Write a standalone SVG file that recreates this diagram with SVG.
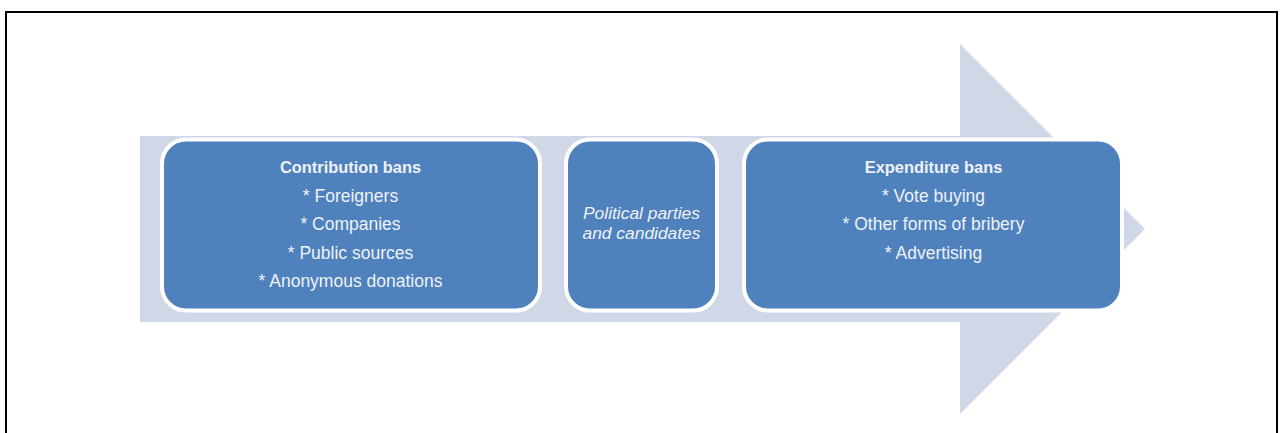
<svg xmlns="http://www.w3.org/2000/svg" width="1280" height="433" viewBox="0 0 1280 433">
  <style>
    .box { fill: #4f81bd; stroke: #ffffff; stroke-width: 4; }
    .t { font-family: "Liberation Sans", Arial, sans-serif; fill: #eef2f8; text-anchor: middle; font-size: 17.5px; }
    .b { font-weight: bold; font-size: 16.4px; }
    .i { font-style: italic; font-size: 17.4px; }
  </style>
  <rect x="0" y="0" width="1280" height="433" fill="#ffffff"/>
  <path d="M6,434 V12 H1277 V434" fill="none" stroke="#000000" stroke-width="2"/>
  <g id="arrow">
    <polygon points="140,136 960,136 960,44 1145,229 960,414 960,322 140,322" fill="#d0d8e8"/>
  </g>
  <g id="connectors"></g>
  <g id="contribution-bans">
    <rect class="box" x="162" y="139.5" width="378" height="171" rx="24" ry="24"/>
    <text class="t b" x="350.5" y="173">Contribution bans</text>
    <text class="t" x="350.5" y="201.5">* Foreigners</text>
    <text class="t" x="350.5" y="230">* Companies</text>
    <text class="t" x="350.5" y="258.5">* Public sources</text>
    <text class="t" x="350.5" y="287">* Anonymous donations</text>
  </g>
  <g id="political-parties">
    <rect class="box" x="566" y="139.5" width="151" height="171" rx="24" ry="24"/>
    <text class="t i" x="641.5" y="219">Political parties</text>
    <text class="t i" x="641.5" y="239">and candidates</text>
  </g>
  <g id="expenditure-bans">
    <rect class="box" x="744" y="139.5" width="378" height="171" rx="24" ry="24"/>
    <text class="t b" x="933.5" y="173">Expenditure bans</text>
    <text class="t" x="933.5" y="201.5">* Vote buying</text>
    <text class="t" x="933.5" y="230">* Other forms of bribery</text>
    <text class="t" x="933.5" y="258.5">* Advertising</text>
  </g>
</svg>
